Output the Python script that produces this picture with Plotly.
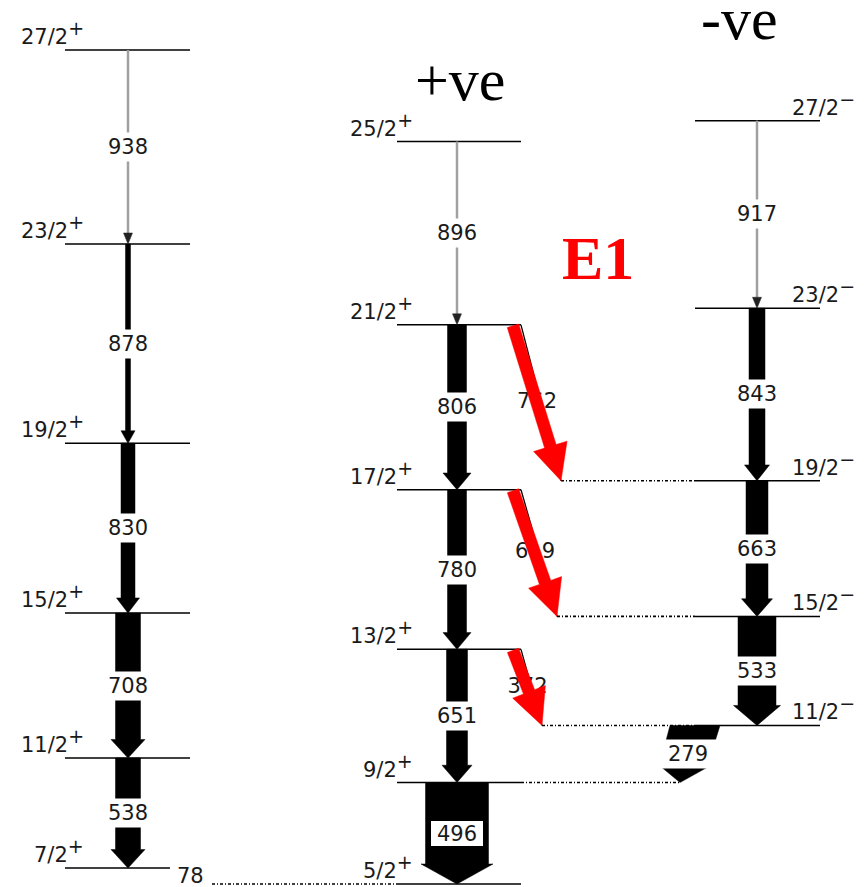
import math
import plotly.graph_objects as go

# ---------------- data (energies in keV, gamma labels, relative widths) ----------------
band_A_spins = ["7/2", "11/2", "15/2", "19/2", "23/2", "27/2"]
band_A_energies = [78, 616, 1324, 2154, 3128, 4076]
band_A_gammas = ["538", "708", "830", "878", "938"]
band_A_intensity = [25, 25, 14, 5, 2]

band_B_spins = ["5/2", "9/2", "13/2", "17/2", "21/2", "25/2"]
band_B_energies = [0, 496, 1147, 1927, 2733, 3629]
band_B_gammas = ["496", "651", "780", "806", "896"]
band_B_intensity = [63, 21, 19, 19, 2]

band_C_spins = ["11/2", "15/2", "19/2", "23/2", "27/2"]
band_C_energies = [775, 1308, 1971, 2814, 3731]
band_C_gammas = ["533", "663", "843", "917"]
band_C_intensity = [38, 22, 16, 2]

e1_labels = ["372", "619", "762"]
e1_from = [1147, 1927, 2733]
e1_to = [775, 1308, 1971]

link_label = "279"
link_from = 775
link_to = 496
link_intensity = 50

ground_label = "78"

# ---------------- layout helpers ----------------
W, H = 864, 887
S = 0.2046
Y0 = 884.0


def e2px(e):
    return Y0 - S * e


def px2e(y):
    return (Y0 - y) / S


BAND_X = {"A": (65, 190), "B": (397, 521), "C": (695, 820)}
CX = {"A": 128, "B": 457, "C": 757}
E1_END_X = [542, 557, 561]
FONT = "DejaVu Sans"

fig = go.Figure()


def add_poly(pts, color):
    xs = [p[0] for p in pts] + [pts[0][0]]
    ys = [px2e(p[1]) for p in pts] + [px2e(pts[0][1])]
    fig.add_trace(go.Scatter(x=xs, y=ys, mode="lines", fill="toself",
                             fillcolor=color, line=dict(color=color, width=0.5),
                             hoverinfo="skip", showlegend=False))


def add_line(x0, e0, x1, e1, color="black", width=1.5, dash=None):
    fig.add_trace(go.Scatter(x=[x0, x1], y=[e0, e1], mode="lines",
                             line=dict(color=color, width=width, dash=dash),
                             hoverinfo="skip", showlegend=False))


def vertical_arrow(cx, ei, ef, w):
    yt, ytip = e2px(ei), e2px(ef)
    hw = w + 9
    hl = min(20, 11 + 0.3 * w)
    if w <= 3:
        add_line(cx, ei, cx, px2e(ytip - hl + 1), color="#a0a0a0", width=2.5)
        add_poly([(cx - 4.5, ytip - 11), (cx + 4.5, ytip - 11), (cx, ytip)], "#222222")
        return
    add_poly([(cx - w / 2, yt), (cx + w / 2, yt), (cx + w / 2, ytip - hl),
              (cx + hw / 2, ytip - hl), (cx, ytip), (cx - hw / 2, ytip - hl),
              (cx - w / 2, ytip - hl)], "black")


def slanted_arrow(p0, p1, w, hw, hl, color):
    dx, dy = p1[0] - p0[0], p1[1] - p0[1]
    L = math.hypot(dx, dy)
    ux, uy = dx / L, dy / L
    nx, ny = -uy, ux
    bx, by = p1[0] - ux * hl, p1[1] - uy * hl
    pts = [(p0[0] + nx * w / 2, p0[1] + ny * w / 2),
           (bx + nx * w / 2, by + ny * w / 2),
           (bx + nx * hw / 2, by + ny * hw / 2),
           p1,
           (bx - nx * hw / 2, by - ny * hw / 2),
           (bx - nx * w / 2, by - ny * w / 2),
           (p0[0] - nx * w / 2, p0[1] - ny * w / 2)]
    add_poly(pts, color)


DOT = "3px,2px,1px,2px"

# dotted connector lines
add_line(212, 0, BAND_X["B"][0], 0, width=1.6, dash=DOT)
add_line(BAND_X["B"][1], link_to, BAND_X["C"][0] - 15, link_to, width=1.6, dash=DOT)
for ex, ef in zip(E1_END_X, e1_to):
    add_line(ex, ef, BAND_X["C"][0], ef, width=1.6, dash=DOT)

# thin E1 transitions underneath the red arrows
for ex, ei, ef in zip(E1_END_X, e1_from, e1_to):
    add_line(BAND_X["B"][1], ei, ex, ef, width=1.3)

# level lines
for band, energies in (("A", band_A_energies), ("B", band_B_energies), ("C", band_C_energies)):
    x0, x1 = BAND_X[band]
    for i, e in enumerate(energies):
        xe = 170 if (band == "A" and i == 0) else x1
        add_line(x0, e, xe, e, width=1.5)

# in-band transitions
for band, energies, widths in (("A", band_A_energies, band_A_intensity),
                               ("B", band_B_energies, band_B_intensity),
                               ("C", band_C_energies, band_C_intensity)):
    for i, w in enumerate(widths):
        vertical_arrow(CX[band], energies[i + 1], energies[i], w)

# 279 interband link (sheared arrow)
top_cx = BAND_X["C"][0]
tip_x = BAND_X["C"][0] - 15
yt, ytip = e2px(link_from), e2px(link_to)
hl = 15
yb = ytip - hl
cb = top_cx + (tip_x - top_cx) * (yb - yt) / (ytip - yt)
w = link_intensity
add_poly([(top_cx - w / 2, yt), (top_cx + w / 2, yt), (cb + w / 2 - 2, yb),
          (cb + 23, yb), (tip_x, ytip), (cb - 22, yb), (cb - w / 2, yb)], "black")

# E1 labels (partly hidden by the red arrows)
fig.add_trace(go.Scatter(
    x=[(BAND_X["B"][1] + ex) / 2 - 4 for ex in E1_END_X],
    y=[(ei + ef) / 2 for ei, ef in zip(e1_from, e1_to)],
    mode="text", text=e1_labels, textposition="middle center",
    textfont=dict(family=FONT, size=21, color="#1a1a1a"),
    hoverinfo="skip", showlegend=False))

# red E1 arrows
for ex, ei, ef in zip(E1_END_X, e1_from, e1_to):
    slanted_arrow((513, e2px(ei) + 1), (ex, e2px(ef)), 12, 35, 36, "#ff0000")

# ---------------- annotations ----------------
ann = []


def label(x, e, text, w, boxed=False):
    a = dict(x=x, y=e, xref="x", yref="y", text=text, showarrow=False,
             font=dict(family=FONT, size=21, color="#1a1a1a"),
             bgcolor="white", width=w, height=24, borderpad=2,
             xanchor="center", yanchor="middle")
    if boxed:
        a.update(bordercolor="black", borderwidth=1, borderpad=0, width=52, height=25)
    ann.append(a)


for band, energies, gammas, widths in (("A", band_A_energies, band_A_gammas, band_A_intensity),
                                       ("B", band_B_energies, band_B_gammas, band_B_intensity),
                                       ("C", band_C_energies, band_C_gammas, band_C_intensity)):
    for i, g in enumerate(gammas):
        mid = (energies[i] + energies[i + 1]) / 2
        label(CX[band], mid, g, max(42, widths[i] + 6), boxed=(widths[i] > 50))

mid_link = (link_from + link_to) / 2
ym = e2px(mid_link)
cm = top_cx + (tip_x - top_cx) * (ym - yt) / (ytip - yt)
label(cm, mid_link, link_label, 60)

# spin labels
for band, spins, energies, par, xr, anchor in (
        ("A", band_A_spins, band_A_energies, "+", 85, "right"),
        ("B", band_B_spins, band_B_energies, "+", 414, "right"),
        ("C", band_C_spins, band_C_energies, "\u2212", 856, "right")):
    for sp, e in zip(spins, energies):
        ann.append(dict(x=xr, y=e, xref="x", yref="y",
                        text=f"{sp}<sup><span style='font-size:19px'>{par}</span></sup>",
                        showarrow=False, xanchor=anchor, yanchor="bottom",
                        font=dict(family=FONT, size=21, color="#1a1a1a"), borderpad=0))

ann.append(dict(x=190, y=(band_A_energies[0] + band_B_energies[0]) / 2, xref="x", yref="y",
                text=ground_label, showarrow=False, xanchor="center", yanchor="middle",
                font=dict(family=FONT, size=21, color="#1a1a1a")))


def paper(px, py):
    return px / W, 1 - py / H


for txt, px, py, fnt in (("+ve", 460, 80, dict(family="Liberation Serif", size=60, color="black")),
                         ("-ve", 739, 19, dict(family="Liberation Serif", size=60, color="black")),
                         ("<b>E1</b>", 598, 258, dict(family="Liberation Serif", size=62, color="#ff0000"))):
    xp, yp = paper(px, py)
    ann.append(dict(x=xp, y=yp, xref="paper", yref="paper", text=txt, showarrow=False,
                    xanchor="center", yanchor="middle", font=fnt))

fig.update_layout(
    width=W, height=H, margin=dict(l=0, r=0, t=0, b=0),
    paper_bgcolor="white", plot_bgcolor="white",
    xaxis=dict(range=[0, W], visible=False, fixedrange=True),
    yaxis=dict(range=[px2e(H), px2e(0)], visible=False, fixedrange=True),
    annotations=ann, showlegend=False,
)

fig.write_html("out.html")
